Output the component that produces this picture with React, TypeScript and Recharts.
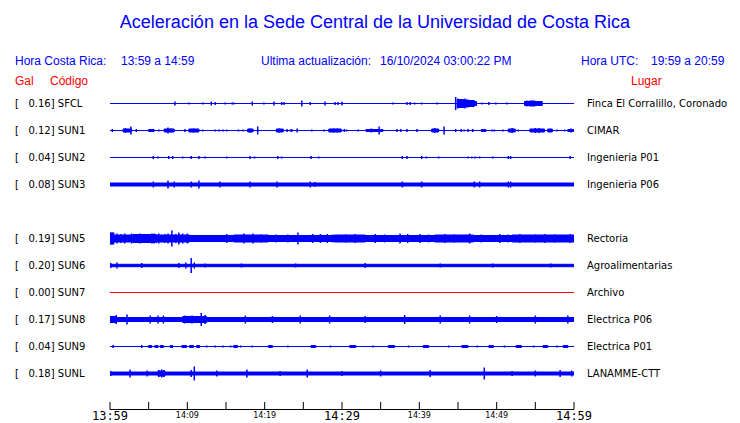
import { ComposedChart, Area, Scatter, ErrorBar, XAxis, YAxis } from 'recharts'

type Pair = [number, number]

// stations top to bottom; slot 4 (SUN4) is left empty
const codes = ['SFCL', 'SUN1', 'SUN2', 'SUN3', 'SUN5', 'SUN6', 'SUN7', 'SUN8', 'SUN9', 'SUNL']
const slots = [0, 1, 2, 3, 5, 6, 7, 8, 9, 10]
const peakGal = ['0.16', '0.12', '0.04', '0.08', '0.19', '0.20', '0.00', '0.17', '0.04', '0.18']
const places = [
  'Finca El Corralillo, Coronado',
  'CIMAR',
  'Ingenieria P01',
  'Ingenieria P06',
  'Rectoria',
  'Agroalimentarias',
  'Archivo',
  'Electrica P06',
  'Electrica P01',
  'LANAMME-CTT',
]
const traceColors = ['#0000ff', '#0000ff', '#0000ff', '#0000ff', '#0000ff', '#0000ff', '#ff0000', '#0000ff', '#0000ff', '#0000ff']

// minutes after 13:59
const minuteTicks = [0, 5, 10, 15, 20, 25, 30, 35, 40, 45, 50, 55, 60]
const tickLabels = ['13:59', '', '14:09', '', '14:19', '', '14:29', '', '14:39', '', '14:49', '', '14:59']
const bigLabels = ['13:59', '14:29', '14:59']

// envelope of each trace: [minute, half amplitude], held until the next entry
const sfclEnv: Pair[] = [[0, 0], [44.9, 4], [45.7, 3.5], [46.4, 3], [47.1, 2], [47.4, 0], [53.6, 2], [54.2, 2.5], [55.0, 2], [55.9, 0], [60, 0]]
const sun1Env: Pair[] = [
  [0, 0], [1.7, 1.5], [2.8, 0], [5.0, 1], [5.7, 0], [7.0, 1.5], [8.3, 0], [10.2, 1.5], [11.5, 0], [17.8, 1.5], [18.5, 0],
  [21.5, 1.5], [22.4, 0], [28.3, 1.5], [29.9, 0], [33.1, 1], [35.3, 0], [41.6, 1.5], [42.5, 0], [48.0, 1], [48.6, 0],
  [51.5, 1.5], [52.4, 0], [54.3, 1.5], [56.2, 0], [56.6, 1.5], [57.2, 0], [59.2, 1], [60, 1],
]
const sun2Env: Pair[] = [[0, 0], [60, 0]]
const sun3Env: Pair[] = [[0, 1.5], [60, 1.5]]
const sun5Env: Pair[] = [[0, 5.5], [0.5, 3.5], [3, 4], [6, 3.5], [10.3, 3], [16, 3.5], [20.5, 3], [29, 3.5], [33, 3], [42, 3.5], [47, 3], [52, 3.5], [60, 3.5]]
const sun6Env: Pair[] = [[0, 1.2], [60, 1.2]]
const sun7Env: Pair[] = [[0, 0], [60, 0]]
const sun8Env: Pair[] = [[0, 3], [0.8, 2], [9.4, 3], [12.5, 2], [60, 2]]
const sun9Env: Pair[] = [
  [0, 0], [5.0, 1], [5.4, 0], [5.8, 1], [6.2, 0], [6.5, 1], [6.9, 0], [7.8, 1], [8.1, 0], [9.3, 1], [9.9, 0],
  [10.3, 1], [10.8, 0], [11.2, 1], [11.6, 0], [16, 1], [16.5, 0], [20.5, 1], [21, 0], [26, 1], [26.6, 0],
  [31, 1], [31.8, 0], [36, 1], [36.8, 0], [40.5, 1], [41.2, 0], [45.5, 1], [46.3, 0], [49, 1], [49.6, 0],
  [52.5, 1], [53.2, 0], [56, 1], [56.6, 0], [58.6, 1], [59.2, 0], [60, 0],
]
const sunlEnv: Pair[] = [[0, 1.5], [6.2, 2.5], [7.1, 1.5], [60, 1.5]]

// single peaks: [minute, half amplitude]
const sfclPeaks: Pair[] = [
  [8.4, 2], [10.2, 1], [12.0, 1], [13.1, 2], [13.6, 1.5], [14.9, 1], [15.8, 1], [16.0, 1], [18.4, 2], [19.9, 1],
  [21.2, 2], [22.2, 1.5], [22.5, 1.5], [24.8, 3], [25.9, 1.5], [27.8, 2], [29.1, 1.5], [29.5, 1.5], [30.0, 2],
  [36.6, 1], [38.4, 1.5], [38.8, 1.5], [39.4, 1], [40.3, 1], [42.3, 1], [44.7, 6.5], [45.0, 5], [45.9, 5],
  [48.1, 1], [49.0, 1.5], [49.9, 1], [51.3, 1], [53.9, 3],
]
const sun1Peaks: Pair[] = [
  [0.3, 1.5], [2.0, 2.5], [2.7, 4], [3.4, 1.5], [6.3, 1], [7.5, 3], [7.9, 2], [9.7, 1.5], [10.8, 2], [12.0, 1],
  [13.6, 1], [14.1, 1], [14.6, 1], [15.1, 1], [16.6, 1], [17.2, 1], [18.1, 2], [19.1, 4], [21.9, 2], [22.9, 1.5],
  [23.3, 1], [23.5, 1.5], [24.2, 2], [26.1, 1], [27.7, 1], [28.9, 2], [29.4, 2], [30.3, 1.5], [30.6, 1], [32.1, 1],
  [33.8, 2], [34.8, 4], [37.1, 1.5], [37.6, 1.5], [38.4, 1.5], [39.7, 1.5], [42.0, 2.5], [43.2, 4], [44.7, 1.5],
  [45.4, 1.5], [45.8, 1], [46.3, 1.5], [46.9, 1.5], [49.4, 1], [49.7, 1], [50.8, 1], [52.0, 2.5], [52.8, 1],
  [55.0, 2.5], [55.5, 2.5], [57.8, 1], [58.8, 1], [59.6, 2],
]
const sun2Peaks: Pair[] = [
  [5.6, 1.5], [6.2, 1], [7.6, 1.5], [8.1, 1.5], [9.4, 1], [10.5, 1.5], [11.5, 1.5], [12.3, 1], [15.1, 1], [18.1, 1.5],
  [18.7, 1], [21.7, 1.5], [22.2, 1], [26.0, 1.5], [27.0, 1], [37.8, 1.5], [38.4, 1.5], [40.3, 1.5], [40.9, 1],
  [42.5, 1], [46.3, 1], [46.8, 1], [47.2, 1], [47.8, 1], [49.5, 1], [51.5, 1.5], [51.8, 1.5], [59.5, 1.5],
]
const sun3Peaks: Pair[] = [
  [5.6, 3], [7.5, 4], [8.3, 3], [10.5, 3], [11.5, 4], [14.2, 3], [18.1, 3], [21.6, 3], [25.9, 3], [26.5, 2.5],
  [37.8, 3], [40.3, 3], [47.1, 3], [47.8, 3], [51.5, 3], [51.8, 3],
]
const sun5Peaks: Pair[] = [
  [0.1, 6], [0.4, 6], [0.9, 5], [1.4, 4.5], [1.9, 5], [2.8, 5], [3.4, 4.5], [3.9, 5], [4.3, 4.5], [4.8, 4.5],
  [5.4, 5], [5.7, 5], [6.3, 5], [7.1, 4.5], [7.5, 5], [8.0, 8], [8.5, 4.5], [8.9, 6], [9.4, 5], [10.0, 5],
  [15.1, 4.5], [17.3, 5], [18.5, 5], [19.5, 4], [21.5, 4], [23, 4], [24.3, 6], [26.2, 4.5], [27.2, 4.5], [28.1, 4.5],
  [28.8, 4], [30.5, 4], [31.7, 4.5], [34.3, 4.5], [35.5, 4], [37.5, 5], [38.5, 4.5], [40.1, 4.5], [41.2, 4],
  [43.3, 4.5], [44.5, 4], [46.5, 5], [48, 4], [50.4, 4.5], [51.5, 4], [53.0, 4.5], [55, 4], [56.2, 4.5], [57.5, 4], [59.5, 4.5],
]
const sun6Peaks: Pair[] = [
  [0.1, 2.5], [0.9, 3], [4.1, 2.5], [8.9, 2.5], [9.8, 3], [10.5, 7.5], [10.9, 3], [12.3, 2], [17, 2], [24, 2],
  [33, 2.5], [42.7, 2], [49.5, 2], [57, 2],
]
const sun7Peaks: Pair[] = []
const sun8Peaks: Pair[] = [
  [0.2, 3], [0.8, 4.5], [2.2, 5], [5.2, 4], [6.2, 4], [6.9, 4], [9.7, 4], [10.6, 4], [11.8, 6.5], [12.3, 4.5],
  [17.5, 4], [21, 3.5], [24.6, 4], [28.4, 4], [33, 3.5], [38.1, 4.5], [42.7, 4], [46.5, 4], [50, 3.5], [55, 4], [59.2, 4],
]
const sun9Peaks: Pair[] = [
  [0.4, 1.5], [4.1, 1.5], [12.5, 1], [13.6, 1], [14.6, 1], [15.6, 1], [16.9, 1], [18.4, 1], [23, 1], [28.5, 1],
  [34, 1], [38.6, 1], [43.8, 1], [47.5, 1], [51, 1], [54.8, 1], [57.8, 1],
]
const sunlPeaks: Pair[] = [
  [0.1, 2.5], [2.6, 4], [4.8, 3], [6.3, 3.5], [6.7, 4], [7.0, 3.5], [10.5, 3.5], [10.9, 7], [13.8, 3], [17.7, 4],
  [22, 2.5], [25.5, 4], [30, 2.5], [35, 3], [41.4, 3.5], [48.4, 6], [52, 2.5], [55, 3], [58.2, 3.5], [59.7, 3],
]

const envelopes = [sfclEnv, sun1Env, sun2Env, sun3Env, sun5Env, sun6Env, sun7Env, sun8Env, sun9Env, sunlEnv]
const peaks = [sfclPeaks, sun1Peaks, sun2Peaks, sun3Peaks, sun5Peaks, sun6Peaks, sun7Peaks, sun8Peaks, sun9Peaks, sunlPeaks]

const ROW_PX = 27
const AMP = 1 / ROW_PX // amplitude units -> row units
const rowTicks = slots.map((s) => -s)

const sans = 'DejaVu Sans, sans-serif'
const arial = 'Liberation Sans, Arial, sans-serif'

function StationTick({ y, payload }: any) {
  const i = slots.indexOf(-payload.value)
  if (i < 0) return <g />
  return (
    <text x={15} y={y} dy={3.5} fontFamily={sans} fontSize={10} fill="#000" style={{ whiteSpace: 'pre' }}>
      {`[   ${peakGal[i]}] ${codes[i]}`}
    </text>
  )
}

function PlaceTick({ y, payload }: any) {
  const i = slots.indexOf(-payload.value)
  if (i < 0) return <g />
  return (
    <text x={587} y={y} dy={3.5} fontFamily={sans} fontSize={10} fill="#000">
      {places[i]}
    </text>
  )
}

function TimeTick({ x, y, payload }: any) {
  const label = tickLabels[minuteTicks.indexOf(payload.value)]
  const big = bigLabels.includes(label)
  return (
    <g>
      <line x1={x} x2={x} y1={y} y2={y - 7.5} stroke="#000" />
      {label ? (
        <text
          x={x}
          y={y + (big ? 10 : 8)}
          textAnchor="middle"
          fontFamily={big ? 'DejaVu Sans Mono, monospace' : sans}
          fontSize={big ? 12 : 8}
          fill="#000"
        >
          {label}
        </text>
      ) : null}
    </g>
  )
}

const NoDot = () => <g />

export default function App() {
  return (
    <div style={{ position: 'absolute', left: 0, top: 0, width: 740, height: 423, background: '#fff' }}>
      <ComposedChart width={740} height={423} margin={{ top: 76.5, right: 0, bottom: 0, left: 0 }}>
        <XAxis
          dataKey="t"
          type="number"
          domain={[0, 60]}
          ticks={minuteTicks}
          interval={0}
          height={13.5}
          tickSize={0}
          tickMargin={0}
          tickLine={false}
          axisLine={{ stroke: '#000' }}
          tick={<TimeTick />}
        />
        <YAxis
          yAxisId="left"
          type="number"
          domain={[-11.3333, 1]}
          allowDataOverflow
          ticks={rowTicks}
          interval={0}
          width={110}
          axisLine={false}
          tickLine={false}
          tick={<StationTick />}
        />
        <YAxis
          yAxisId="right"
          orientation="right"
          type="number"
          domain={[-11.3333, 1]}
          allowDataOverflow
          ticks={rowTicks}
          interval={0}
          width={166}
          axisLine={false}
          tickLine={false}
          tick={<PlaceTick />}
        />
        {codes.map((code, i) => (
          <Area
            key={code}
            yAxisId="left"
            data={envelopes[i].map(([t, a]) => ({ t, band: [-slots[i] - a * AMP, -slots[i] + a * AMP] }))}
            dataKey="band"
            type="stepAfter"
            stroke={traceColors[i]}
            strokeWidth={1}
            fill={traceColors[i]}
            fillOpacity={1}
            dot={false}
            activeDot={false}
            isAnimationActive={false}
          />
        ))}
        {codes.map((code, i) =>
          peaks[i].length ? (
            <Scatter
              key={code + '-pk'}
              yAxisId="left"
              data={peaks[i].map(([t, a]) => ({ t, y: -slots[i], err: a * AMP }))}
              dataKey="y"
              shape={NoDot}
              isAnimationActive={false}
            >
              <ErrorBar dataKey="err" direction="y" width={0} stroke={traceColors[i]} strokeWidth={1.5} isAnimationActive={false} />
            </Scatter>
          ) : null
        )}
      </ComposedChart>
      <svg width={740} height={423} style={{ position: 'absolute', left: 0, top: 0, pointerEvents: 'none' }}>
        <text x={375} y={28} textAnchor="middle" fontFamily={arial} fontSize={18} fill="#0000ff">
          Aceleración en la Sede Central de la Universidad de Costa Rica
        </text>
        <g fontFamily={arial} fontSize={12} fill="#0000ff">
          <text x={15} y={65}>Hora Costa Rica:</text>
          <text x={121} y={65}>13:59 a 14:59</text>
          <text x={261} y={65}>Ultima actualización:</text>
          <text x={380} y={65}>16/10/2024 03:00:22 PM</text>
          <text x={581} y={65}>Hora UTC:</text>
          <text x={651} y={65}>19:59 a 20:59</text>
        </g>
        <g fontFamily={arial} fontSize={12} fill="#ff0000">
          <text x={15} y={85}>Gal</text>
          <text x={50} y={85}>Código</text>
          <text x={631} y={85}>Lugar</text>
        </g>
      </svg>
    </div>
  )
}
